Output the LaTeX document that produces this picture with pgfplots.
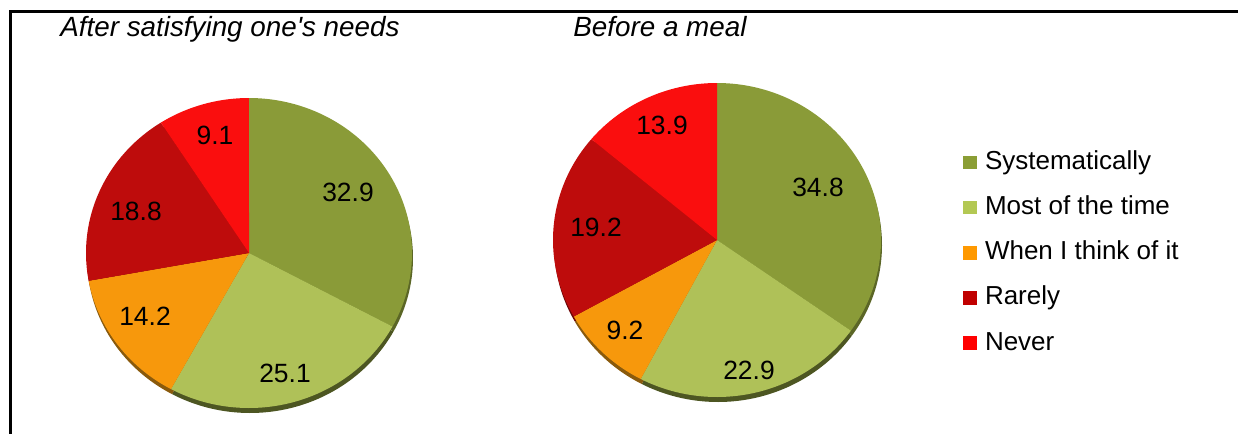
\documentclass[border=0pt]{standalone}
\usepackage{pgfplots}
\usepackage{pgfplotstable}
\pgfplotsset{compat=1.18}
\usepackage{fontspec}
\setmainfont{Liberation Sans}

% slice colours
\definecolor{sys}{HTML}{8A9B38}
\definecolor{most}{HTML}{AFC158}
\definecolor{when}{HTML}{F7980C}
\definecolor{rarely}{HTML}{BE0C0C}
\definecolor{never}{HTML}{FA0E0E}
% colours of the pie's rim
\definecolor{sysside}{HTML}{5B6626}
\definecolor{mostside}{HTML}{4D5622}
\definecolor{whenside}{HTML}{8A5A0C}
\definecolor{rarelyside}{HTML}{6E0808}
\definecolor{neverside}{HTML}{8A0A0A}
% legend swatches
\definecolor{sysL}{HTML}{8B9E35}
\definecolor{mostL}{HTML}{B3C853}
\definecolor{whenL}{HTML}{FF9900}
\definecolor{rarelyL}{HTML}{C00000}
\definecolor{neverL}{HTML}{FF0000}

% shares in percent: Systematically, Most of the time, When I think of it, Rarely, Never
\pgfplotstableread{
share
32.9
25.1
14.2
18.8
9.1
}\afterneeds
\pgfplotstableread{
share
34.8
22.9
9.2
19.2
13.9
}\beforemeal

% boundary angles (degrees, clockwise from 12 o'clock) -> \<p>b ... \<p>e
\newcommand\pieangles[2]{%
  \pgfplotstablegetelem{0}{share}\of#1\let\sA\pgfplotsretval
  \pgfplotstablegetelem{1}{share}\of#1\let\sB\pgfplotsretval
  \pgfplotstablegetelem{2}{share}\of#1\let\sC\pgfplotsretval
  \pgfplotstablegetelem{3}{share}\of#1\let\sD\pgfplotsretval
  \pgfplotstablegetelem{4}{share}\of#1\let\sE\pgfplotsretval
  \pgfmathsetmacro\stot{\sA+\sB+\sC+\sD+\sE}%
  \pgfmathsetmacro\tmp{(\sA)/\stot*360}\expandafter\xdef\csname #2b\endcsname{\tmp}%
  \pgfmathsetmacro\tmp{(\sA+\sB)/\stot*360}\expandafter\xdef\csname #2c\endcsname{\tmp}%
  \pgfmathsetmacro\tmp{(\sA+\sB+\sC)/\stot*360}\expandafter\xdef\csname #2d\endcsname{\tmp}%
  \pgfmathsetmacro\tmp{(\sA+\sB+\sC+\sD)/\stot*360}\expandafter\xdef\csname #2e\endcsname{\tmp}%
}

% one wedge: centre x, centre y, radius x, radius y, from, to, colour
\newcommand\pieslice[7]{%
  \edef\temp{\noexpand\addplot[forget plot, fill=#7, draw=none, domain=#5:#6, samples=90]
    ({#1+#3*sin(x)},{#2-#4*cos(x)}) -- (axis cs:#1,#2) -- cycle;}\temp}

% whole pie: centre x, centre y, radius x, radius y, angle prefix, colour suffix
\newcommand\pie[6]{%
  \pieslice{#1}{#2}{#3}{#4}{0}{\csname #5b\endcsname}{sys#6}%
  \pieslice{#1}{#2}{#3}{#4}{\csname #5b\endcsname}{\csname #5c\endcsname}{most#6}%
  \pieslice{#1}{#2}{#3}{#4}{\csname #5c\endcsname}{\csname #5d\endcsname}{when#6}%
  \pieslice{#1}{#2}{#3}{#4}{\csname #5d\endcsname}{\csname #5e\endcsname}{rarely#6}%
  \pieslice{#1}{#2}{#3}{#4}{\csname #5e\endcsname}{360}{never#6}}

\newcommand\labelfont{\fontsize{13.2}{15}\selectfont}
\newcommand\titlefont{\fontsize{13.9}{16}\selectfont\itshape}

\begin{document}
\begin{tikzpicture}
\pieangles{\afterneeds}{A}
\pieangles{\beforemeal}{B}
\useasboundingbox (0,0) rectangle (619pt,217pt);
\begin{axis}[
  x=0.5pt, y=0.5pt,
  xmin=0, xmax=1238, ymin=0, ymax=434,
  y dir=reverse,
  enlargelimits=false,
  hide axis, clip=false,
  legend image code/.code={\fill[#1] (0pt,-3.4pt) rectangle (7pt,3.4pt); \path (11pt,0pt);},
  legend cell align=left,
  legend style={
    at={(axis cs:963,150)}, anchor=north west,
    draw=none, fill=none, inner sep=0pt, outer sep=0pt,
    font=\fontsize{13}{15}\selectfont,
    row sep=10.2pt,
    nodes={inner sep=0pt, text height=9.6pt, text depth=2.8pt},
  },
]
\addlegendimage{fill=sysL, draw=none}\addlegendentry{Systematically}
\addlegendimage{fill=mostL, draw=none}\addlegendentry{Most of the time}
\addlegendimage{fill=whenL, draw=none}\addlegendentry{When I think of it}
\addlegendimage{fill=rarelyL, draw=none}\addlegendentry{Rarely}
\addlegendimage{fill=neverL, draw=none}\addlegendentry{Never}

% rims, drawn slightly lower, then the faces
\pie{250}{258}{163}{155}{A}{side}
\pie{249}{253}{163}{155}{A}{}
\pie{718}{245}{164}{157}{B}{side}
\pie{717}{240}{164}{157}{B}{}

% slice values
\node[font=\labelfont] at (axis cs:348,192) {32.9};
\node[font=\labelfont] at (axis cs:285,373) {25.1};
\node[font=\labelfont] at (axis cs:145,316) {14.2};
\node[font=\labelfont] at (axis cs:136,211) {18.8};
\node[font=\labelfont] at (axis cs:215,135) {9.1};
\node[font=\labelfont] at (axis cs:818,187) {34.8};
\node[font=\labelfont] at (axis cs:749,370) {22.9};
\node[font=\labelfont] at (axis cs:625,330) {9.2};
\node[font=\labelfont] at (axis cs:596,227) {19.2};
\node[font=\labelfont] at (axis cs:662,125) {13.9};

% titles
\node[font=\titlefont, anchor=base west, inner sep=0pt] at (axis cs:60,36) {After satisfying one\textquotesingle s needs};
\node[font=\titlefont, anchor=base west, inner sep=0pt] at (axis cs:573,36) {Before a meal};

% chart frame
\draw[line width=1.5pt] (axis cs:10,440) -- (axis cs:10,11) -- (axis cs:1245,11);
\end{axis}
\end{tikzpicture}
\end{document}
